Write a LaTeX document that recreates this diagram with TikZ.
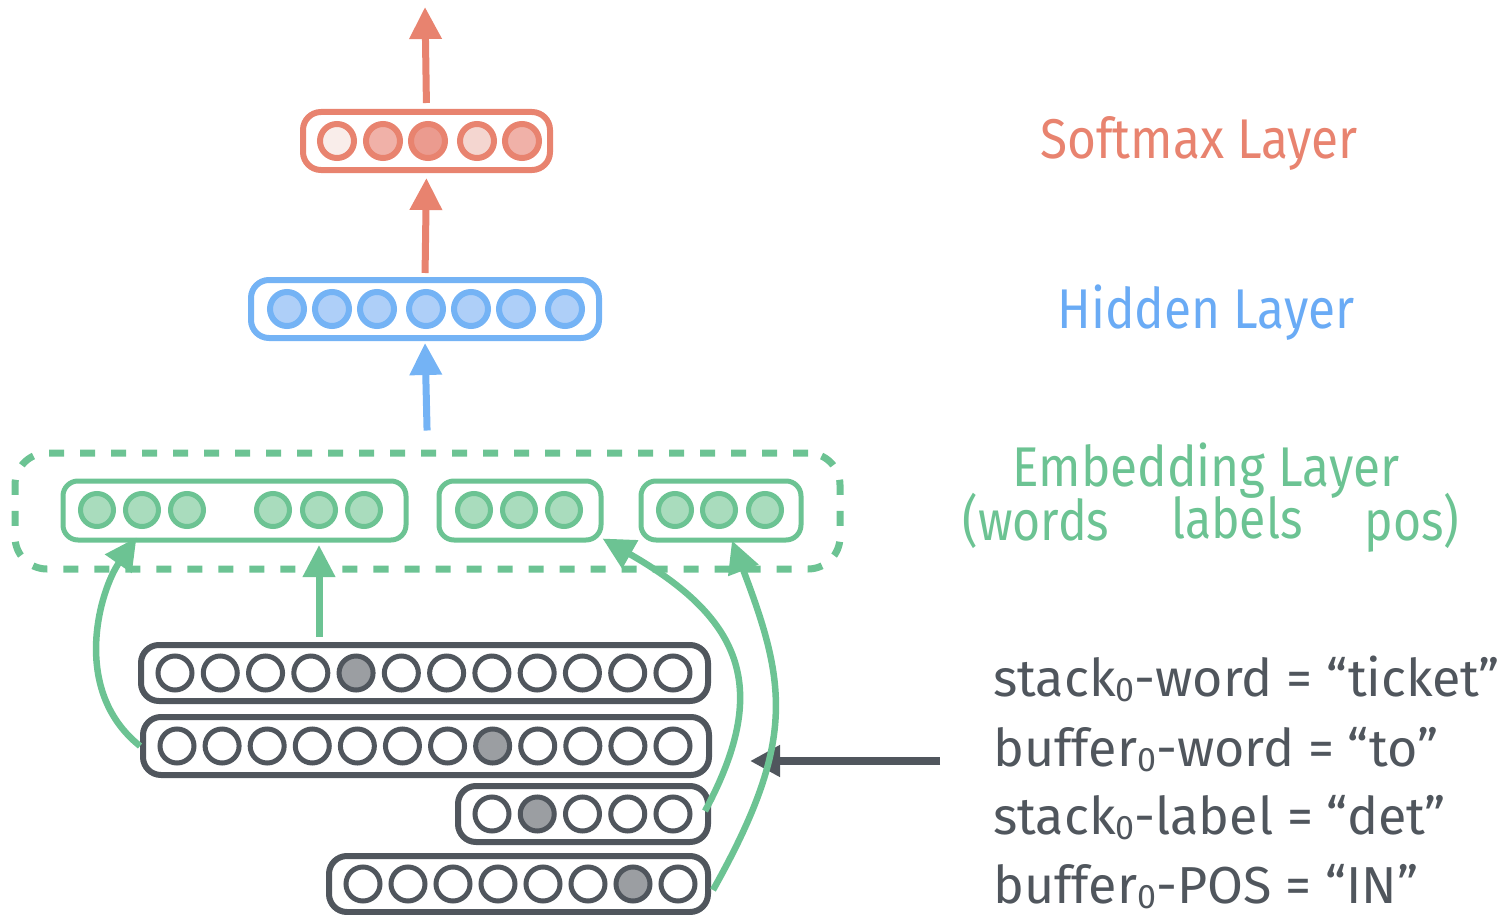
\documentclass[tikz,border=0pt]{standalone}
\usepackage{fontspec}
\setmainfont{Fira Sans}
\newfontfamily\labelfont{Fira Sans}[FakeStretch=0.885]
\newfontfamily\notefont{Fira Sans}[FakeStretch=0.86]
\usetikzlibrary{arrows.meta}

\definecolor{smline}{HTML}{E8836F}
\definecolor{smA}{HTML}{F9EDEA}
\definecolor{smB}{HTML}{F0B1A8}
\definecolor{smC}{HTML}{EB9B8F}
\definecolor{smD}{HTML}{F4D6D0}
\definecolor{hidline}{HTML}{74B3F5}
\definecolor{hidfill}{HTML}{AECFF8}
\definecolor{hidtext}{HTML}{6AABF5}
\definecolor{embline}{HTML}{6CC393}
\definecolor{embfill}{HTML}{A9DCBD}
\definecolor{inkline}{HTML}{50565D}
\definecolor{inkfill}{HTML}{9B9EA2}

% small index digit set just below the baseline
\newcommand{\idx}[1]{\raisebox{-5pt}{\fontsize{34}{34}\selectfont #1}}

\begin{document}
\begin{tikzpicture}[x=1pt,y=-1pt,
  layerbox/.style={draw, rounded corners=18pt, minimum height=58pt, inner sep=0pt, fill=white},
  unit/.style={circle, draw, minimum size=34pt, inner sep=0pt},
  smunit/.style={unit, draw=smline, line width=6pt},
  hidunit/.style={unit, draw=hidline, fill=hidfill, line width=6pt},
  embunit/.style={unit, minimum size=33pt, draw=embline, fill=embfill, line width=5pt},
  inkunit/.style={unit, draw=inkline, fill=white, line width=5pt},
  inkon/.style={inkunit, fill=inkfill},
  flow/.style={line width=7pt, -{Triangle[width=31pt,length=32pt]}},
  lab/.style={anchor=base, inner sep=0pt, font=\labelfont\fontsize{56}{60}\selectfont},
  sublab/.style={anchor=base, inner sep=0pt, text=embline, font=\notefont\fontsize{56}{60}\selectfont},
  feat/.style={anchor=base west, inner sep=0pt, text=inkline, font=\fontsize{52}{60}\selectfont}
]
\useasboundingbox (0,0) rectangle (1499,915);

% ---------- softmax layer ----------
\node[layerbox, draw=smline, line width=6pt, minimum width=247pt] (smbox) at (426.5,141) {};
\foreach \x/\c [count=\i] in {337/smA, 383/smB, 428/smC, 477/smD, 522/smB}
  \node[smunit, fill=\c] (sm\i) at (\x,141) {};

% ---------- hidden layer ----------
\node[layerbox, draw=hidline, line width=6pt, minimum width=348pt] (hidbox) at (425,309) {};
\foreach \x [count=\i] in {287,332,377,426,471,516,565}
  \node[hidunit] (h\i) at (\x,309) {};

% ---------- embedding layer ----------
\node[draw=embline, line width=7pt, dash pattern=on 15pt off 16pt, rounded corners=32pt,
      minimum width=825pt, minimum height=116pt, inner sep=0pt] (embbox) at (427.5,511) {};
\node[layerbox, draw=embline, line width=5pt, rounded corners=15pt, minimum height=59pt, minimum width=343pt] (emb1) at (234.5,510.5) {};
\node[layerbox, draw=embline, line width=5pt, rounded corners=15pt, minimum height=59pt, minimum width=162pt] (emb2) at (520,510.5) {};
\node[layerbox, draw=embline, line width=5pt, rounded corners=15pt, minimum height=59pt, minimum width=160pt] (emb3) at (721,510.5) {};
\foreach \x [count=\i] in {97,142,187,273,319,364}
  \node[embunit] (ew\i) at (\x,510) {};
\foreach \x [count=\i] in {474,519,564}
  \node[embunit] (el\i) at (\x,510) {};
\foreach \x [count=\i] in {675,719,765}
  \node[embunit] (ep\i) at (\x,510) {};

% ---------- one-hot feature vectors ----------
\node[layerbox, draw=inkline, line width=6pt, minimum width=567pt, minimum height=56pt] (rowA) at (424.5,673) {};
\node[layerbox, draw=inkline, line width=6pt, minimum width=566pt] (rowB) at (426,746) {};
\node[layerbox, draw=inkline, line width=6pt, minimum width=250pt, minimum height=56pt] (rowC) at (583,814) {};
\node[layerbox, draw=inkline, line width=6pt, minimum width=379pt, minimum height=56pt] (rowD) at (518.5,884) {};
\foreach \i in {1,...,12}{
  \ifnum\i=5 \def\unitstyle{inkon}\else\def\unitstyle{inkunit}\fi
  \node[\unitstyle] (a\i) at ({175+45.27*(\i-1)},673) {};}
\foreach \i in {1,...,12}{
  \ifnum\i=8 \def\unitstyle{inkon}\else\def\unitstyle{inkunit}\fi
  \node[\unitstyle] (b\i) at ({177+45.09*(\i-1)},746) {};}
\foreach \i in {1,...,5}{
  \ifnum\i=2 \def\unitstyle{inkon}\else\def\unitstyle{inkunit}\fi
  \node[\unitstyle] (c\i) at ({492+45.25*(\i-1)},814) {};}
\foreach \i in {1,...,8}{
  \ifnum\i=7 \def\unitstyle{inkon}\else\def\unitstyle{inkunit}\fi
  \node[\unitstyle] (d\i) at ({363+45*(\i-1)},884) {};}

% ---------- forward connections ----------
\coordinate (out) at (425,7);
\draw[flow, smline, shorten <=6pt] (smbox.north) -- (out);
\draw[flow, smline, shorten <=4pt, shorten >=5pt] (hidbox.north) -- (smbox.south);
\draw[flow, hidline, shorten <=19pt, shorten >=2pt] (embbox.north) -- (hidbox.south);

% pointer from the feature list
\coordinate (ptrtail) at (940,761);
\coordinate (ptrtip) at (750,761);
\draw[line width=8pt, inkline, -{Triangle[width=30pt,length=30pt]}] (ptrtail) -- (ptrtip);

% lookups into the embedding layer
\draw[flow, embline, shorten <=5pt, shorten >=2.5pt] (ew5 |- rowA.north) -- (ew5 |- emb1.south);
\draw[flow, embline, line width=6.5pt] (rowB.west) .. controls (70,690) and (100,590) .. ([xshift=-98pt,yshift=5pt]emb1.south);
\draw[flow, embline, line width=6.5pt] ([xshift=-6pt,yshift=3pt]rowC.east) .. controls (770,690) and (745,620) .. ([xshift=-1pt,yshift=4pt]emb2.south east);
\draw[flow, embline, line width=6.5pt] ([xshift=2pt,yshift=-6pt]rowD.east) .. controls (796,742) and (787,685) .. ([xshift=11pt,yshift=2pt]emb3.south);

% ---------- labels ----------
\node[lab, text=smline] (smlab) at (1199,158) {Softmax Layer};
\node[lab, text=hidtext] (hidlab) at (1206,328) {Hidden Layer};
\node[lab, text=embline] (emblab) at (1206,486) {Embedding Layer};
\node[sublab] (wlab) at (1036,540) {(words};
\node[sublab] (llab) at (1237,538) {labels};
\node[sublab] (plab) at (1412,540) {pos)};

\node[feat] (f1) at (993,696) {stack\idx{0}-word = “ticket”};
\node[feat] (f2) at (993,766) {buffer\idx{0}-word = “to”};
\node[feat] (f3) at (993,834) {stack\idx{0}-label = “det”};
\node[feat] (f4) at (993,903) {buffer\idx{0}-POS = “IN”};
\end{tikzpicture}
\end{document}
